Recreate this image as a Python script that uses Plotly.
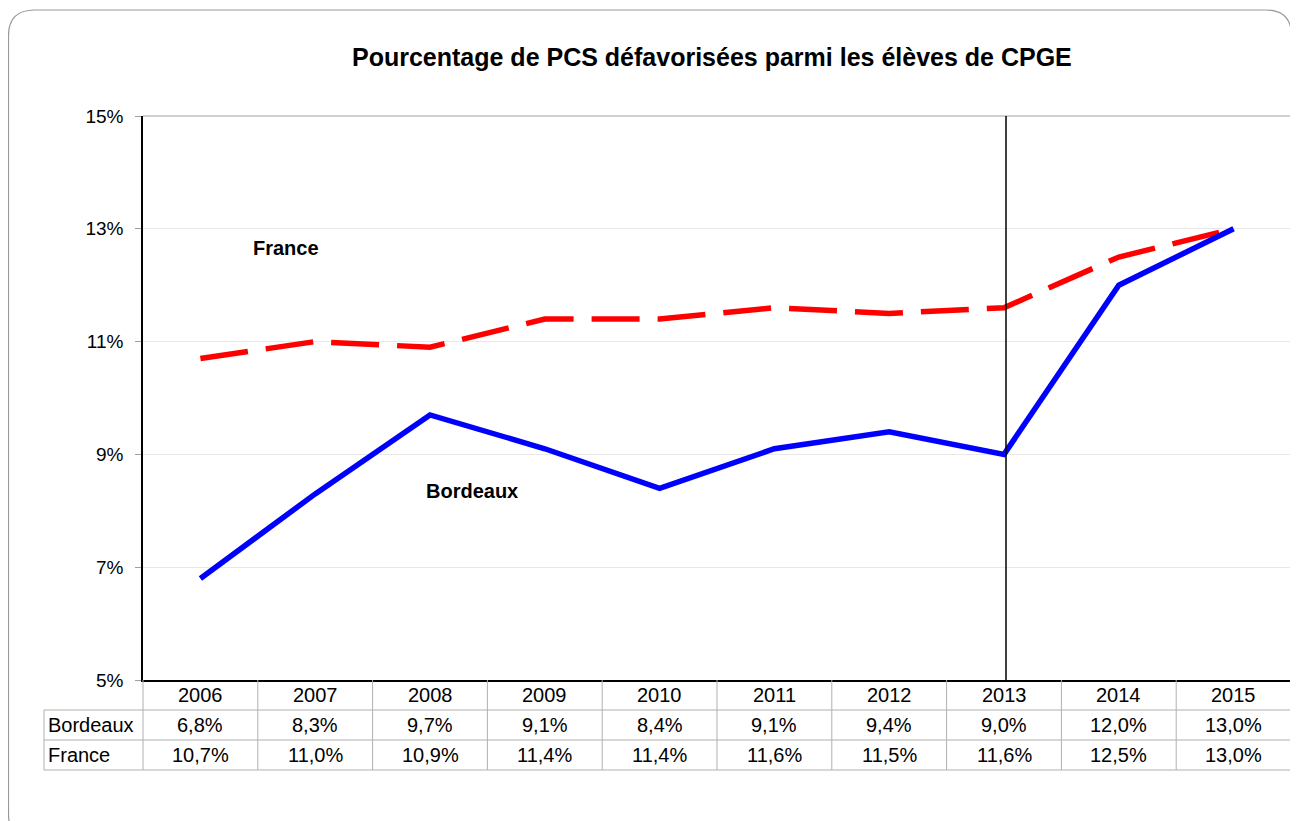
import plotly.graph_objects as go

years = ["2006", "2007", "2008", "2009", "2010", "2011", "2012", "2013", "2014", "2015"]
bordeaux = [6.8, 8.3, 9.7, 9.1, 8.4, 9.1, 9.4, 9.0, 12.0, 13.0]
france = [10.7, 11.0, 10.9, 11.4, 11.4, 11.6, 11.5, 11.6, 12.5, 13.0]
y_ticks = [5, 7, 9, 11, 13, 15]
marker_year = "2013"

OFF = 8  # page body margin
W, H = 1284, 813
# screen-pixel layout of the reference
SL, SR, ST, SB = 143, 1291, 116, 680
L, R, T, B = SL - OFF, SR - OFF, ST - OFF, SB - OFF
FONT = "Liberation Sans, Arial, Helvetica, sans-serif"


def px(x):
    return (x - OFF - L) / (R - L)


def py(y):
    return (B - (y - OFF)) / (B - T)


def fmt(v):
    return f"{v:.1f}%".replace(".", ",")


fig = go.Figure()
fig.add_trace(go.Scatter(x=years, y=france, mode="lines", name="France",
                         line=dict(color="#ff0000", width=5.5, dash="48px,18px")))
fig.add_trace(go.Scatter(x=years, y=bordeaux, mode="lines", name="Bordeaux",
                         line=dict(color="#0000ff", width=5.5)))

shapes = []
ann = []
n = len(years)
gray = "#b0b0b0"
mi = years.index(marker_year)

# plot frame (top, right in gray)
shapes.append(dict(type="line", xref="paper", yref="paper", x0=0, x1=1, y0=1, y1=1,
                   line=dict(color="#a0a0a0", width=1)))
shapes.append(dict(type="line", xref="paper", yref="paper", x0=1, x1=1, y0=0, y1=1,
                   line=dict(color="#a0a0a0", width=1)))
# marker vertical line
xm = (mi + 0.5) / n + 2 / (R - L)
shapes.append(dict(type="line", xref="paper", yref="paper", x0=xm, x1=xm,
                   y0=0, y1=1, line=dict(color="black", width=1.5)))

# table lines
for i in range(n + 1):
    xp = i / n
    shapes.append(dict(type="line", xref="paper", yref="paper", x0=xp, x1=xp,
                       y0=py(680), y1=py(770), line=dict(color=gray, width=1)))
shapes.append(dict(type="line", xref="paper", yref="paper", x0=px(44), x1=px(44),
                   y0=py(710), y1=py(770), line=dict(color=gray, width=1)))
for yy in [710, 740, 770]:
    shapes.append(dict(type="line", xref="paper", yref="paper", x0=px(44), x1=1,
                       y0=py(yy), y1=py(yy), line=dict(color=gray, width=1)))

# outer rounded border (screen px)
x0, x1, y0, y1, r = 8.5, 1291.5, 10, 840, 26
path = (f"M {px(x0+r)},{py(y0)} L {px(x1-r)},{py(y0)} "
        f"Q {px(x1)},{py(y0)} {px(x1)},{py(y0+r)} "
        f"L {px(x1)},{py(y1-r)} Q {px(x1)},{py(y1)} {px(x1-r)},{py(y1)} "
        f"L {px(x0+r)},{py(y1)} Q {px(x0)},{py(y1)} {px(x0)},{py(y1-r)} "
        f"L {px(x0)},{py(y0+r)} Q {px(x0)},{py(y0)} {px(x0+r)},{py(y0)} Z")
shapes.append(dict(type="path", xref="paper", yref="paper", path=path,
                   line=dict(color="#9a9a9a", width=1.2)))

tf = dict(family=FONT, size=20, color="black")
for i, yr in enumerate(years):
    xc = (i + 0.5) / n
    ann.append(dict(x=xc, xref="paper", y=py(695), yref="paper", text=yr, showarrow=False,
                    font=tf, xanchor="center", yanchor="middle"))
    ann.append(dict(x=xc, xref="paper", y=py(725), yref="paper", text=fmt(bordeaux[i]),
                    showarrow=False, font=tf, xanchor="center", yanchor="middle"))
    ann.append(dict(x=xc, xref="paper", y=py(755), yref="paper", text=fmt(france[i]),
                    showarrow=False, font=tf, xanchor="center", yanchor="middle"))
ann.append(dict(x=px(46), xref="paper", y=py(725), yref="paper", text="Bordeaux",
                showarrow=False, font=tf, xanchor="left", yanchor="middle"))
ann.append(dict(x=px(46), xref="paper", y=py(755), yref="paper", text="France",
                showarrow=False, font=tf, xanchor="left", yanchor="middle"))

# series labels
bf = dict(family=FONT, size=20, color="black")
ann.append(dict(x=px(286), xref="paper", y=py(248), yref="paper", text="<b>France</b>",
                showarrow=False, font=bf, xanchor="center", yanchor="middle"))
ann.append(dict(x=px(472), xref="paper", y=py(491), yref="paper", text="<b>Bordeaux</b>",
                showarrow=False, font=bf, xanchor="center", yanchor="middle"))

# title
ann.append(dict(x=px(712), xref="paper", y=py(57), yref="paper",
                text="<b>Pourcentage de PCS défavorisées parmi les élèves de CPGE</b>",
                showarrow=False, font=dict(family=FONT, size=25, color="black"),
                xanchor="center", yanchor="middle"))

fig.update_layout(
    width=W, height=H,
    margin=dict(l=L, r=W - R, t=T, b=H - B, pad=0),
    paper_bgcolor="white", plot_bgcolor="white",
    showlegend=False,
    shapes=shapes, annotations=ann,
    xaxis=dict(type="category", range=[-0.5, n - 0.5], showticklabels=False,
               showgrid=False, showline=True, linecolor="black", linewidth=1.5,
               ticks="", zeroline=False),
    yaxis=dict(range=[5, 15], tickvals=y_ticks, ticktext=[f"{v}%" for v in y_ticks],
               showgrid=True, gridcolor="#e8e8e8", gridwidth=1,
               showline=True, linecolor="black", linewidth=1.5,
               ticks="outside", ticklen=6, tickcolor="#a0a0a0",
               tickfont=dict(family=FONT, size=19, color="black"),
               ticklabelstandoff=8, zeroline=False),
)

fig.write_html("out.html")
